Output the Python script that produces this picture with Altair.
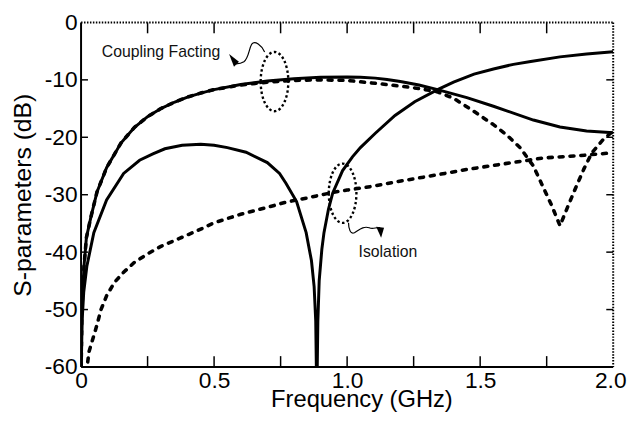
import altair as alt
import pandas as pd

W, H = 539, 349
FONT = "Liberation Sans"

# Coupling (solid)
cs_x = [0.0, 0.003, 0.011, 0.02, 0.037, 0.06, 0.096, 0.15, 0.2, 0.25, 0.3, 0.35, 0.4, 0.45, 0.5,
        0.6, 0.7, 0.8, 0.9, 1.0, 1.05, 1.106, 1.15, 1.2, 1.27, 1.34, 1.45, 1.55, 1.7, 1.8, 1.9, 2.0]
cs_y = [-62, -50, -42.5, -37.5, -33.9, -29.5, -25.3, -21.0, -18.3, -16.4, -15.0, -13.9, -13.0, -12.3, -11.7,
        -10.8, -10.2, -9.8, -9.55, -9.5, -9.55, -9.7, -9.95, -10.3, -10.9, -11.7, -13.1, -14.6, -17.0, -18.2,
        -18.9, -19.2]

# Coupling (dashed)
cd_x = [0.0, 0.003, 0.011, 0.02, 0.037, 0.06, 0.096, 0.15, 0.2, 0.25, 0.3, 0.35, 0.4, 0.45, 0.5,
        0.6, 0.7, 0.8, 0.9, 1.0, 1.106, 1.2, 1.27, 1.34, 1.4, 1.477, 1.55, 1.6, 1.65, 1.7, 1.737, 1.77,
        1.80, 1.83, 1.86, 1.89, 1.92, 1.96, 2.0]
cd_y = [-62, -50, -42.5, -37.5, -33.9, -29.5, -25.3, -21.0, -18.3, -16.4, -15.0, -13.9, -13.0, -12.3, -11.7,
        -10.9, -10.4, -10.1, -10.0, -10.1, -10.6, -11.1, -11.5, -12.1, -13.2, -15.5, -17.8, -19.6, -21.8,
        -25.0, -28.7, -32.0, -35.4, -32.0, -28.7, -25.5, -22.7, -20.5, -18.9]

# Solid curve with deep null
ls_x = [0.0, 0.004, 0.01, 0.022, 0.048, 0.096, 0.16, 0.22, 0.27, 0.315, 0.38, 0.45, 0.5, 0.55, 0.62,
        0.7, 0.746, 0.77, 0.81, 0.846, 0.866, 0.876, 0.882, 0.886, 0.89, 0.895, 0.905, 0.913, 0.93,
        0.946, 0.983, 1.02, 1.05, 1.106, 1.18, 1.254, 1.34, 1.4, 1.477, 1.55, 1.625, 1.69, 1.8, 1.9, 2.0]
ls_y = [-62, -52, -47, -42.4, -36.6, -30.9, -26.3, -24.0, -22.9, -22.0, -21.4, -21.2, -21.4, -21.8, -22.6,
        -24.4, -26.3, -28.0, -31.2, -36.6, -41.5, -46, -52, -66, -52, -45, -39.5, -36.6, -32.5,
        -29.7, -25.8, -23.4, -21.8, -19.3, -16.2, -13.8, -11.7, -10.4, -9.0, -8.1, -7.3, -6.8, -6.0, -5.5, -5.1]

# Isolation (dashed)
iso_x = [0.02, 0.03, 0.045, 0.059, 0.075, 0.096, 0.125, 0.16, 0.2, 0.25, 0.3, 0.37, 0.44, 0.5, 0.6,
         0.7, 0.77, 0.846, 0.946, 1.0, 1.1, 1.18, 1.33, 1.45, 1.55, 1.65, 1.737, 1.87, 2.0]
iso_y = [-61, -57.3, -55, -52.8, -50, -47.6, -45.3, -43.5, -41.8, -40.3, -39.0, -37.6, -36.2, -34.9, -33.4,
         -32.2, -31.3, -30.6, -29.6, -29.2, -28.5, -27.8, -26.6, -25.6, -24.9, -24.2, -23.6, -23.2, -22.7]

x_ticks = [0.25, 0.5, 0.75, 1.0, 1.25, 1.5, 1.75]
y_ticks = [-50, -40, -30, -20, -10]
x_labels = [0, 0.5, 1.0, 1.5, 2.0]
y_labels = [0, -10, -20, -30, -40, -50, -60]

notes = pd.DataFrame({"x": [0.078, 1.043], "y": [-6.0, -40.9],
                      "t": ["Coupling Facting", "Isolation"]})
ellipses = pd.DataFrame({"x": [0.727, 0.983], "y": [-10.3, -29.74], "k": ["c", "i"]})

xscale = alt.Scale(domain=[0, 2], nice=False, zero=False)
yscale = alt.Scale(domain=[-60, 0], nice=False, zero=False)

X = alt.X("x:Q", scale=xscale, axis=alt.Axis(
    values=x_labels, labelExpr="datum.value == 0 ? '0' : format(datum.value, '.1f')",
    ticks=False, domain=False, grid=False, labelFont=FONT, labelFontSize=23, labelColor="black",
    labelPadding=3, labelFlush=False, labelOverlap=False,
    labelAlign=alt.condition("datum.value == 2", alt.value("right"), alt.value("center")),
    labelOffset=alt.condition("datum.value == 2", alt.value(13), alt.value(0)),
    title="Frequency (GHz)", titleFont=FONT, titleFontSize=24, titleFontWeight="normal",
    titleColor="black", titleX=284, titleY=40, titleBaseline="alphabetic"))
Y = alt.Y("y:Q", scale=yscale, axis=alt.Axis(
    values=y_labels, labelExpr="'' + datum.value",
    ticks=False, domain=False, grid=False, labelFont=FONT, labelFontSize=23, labelColor="black",
    labelPadding=4, labelFlush=False, labelOverlap=False,
    title="S-parameters (dB)", titleFont=FONT, titleFontSize=25, titleFontWeight="normal",
    titleColor="black", titleX=-59, titleY=174.5, titleAngle=270, titleBaseline="middle",
    titleAlign="center"))


def df(xs, ys):
    return pd.DataFrame({"x": xs, "y": ys})


solid_c = alt.Chart(df(cs_x, cs_y)).mark_line(color="black", strokeWidth=3, clip=True).encode(x=X, y=Y)
dash_c = alt.Chart(df(cd_x, cd_y)).mark_line(color="black", strokeWidth=3.6, strokeDash=[4, 7],
                                             strokeCap="round", clip=True).encode(x=X, y=Y)
solid_l = alt.Chart(df(ls_x, ls_y)).mark_line(color="black", strokeWidth=3, clip=True).encode(x=X, y=Y)
dash_i = alt.Chart(df(iso_x, iso_y)).mark_line(color="black", strokeWidth=3.6, strokeDash=[4, 7],
                                               strokeCap="round", clip=True).encode(x=X, y=Y)

# frame
frame_b = alt.Chart(df([0], [0])).mark_rule(color="black", strokeWidth=2).encode(
    x=alt.value(0), x2=alt.value(W), y=alt.value(H))
frame_l = alt.Chart(df([0], [0])).mark_rule(color="black", strokeWidth=2).encode(
    x=alt.value(0), y=alt.value(0), y2=alt.value(H))
frame_t = alt.Chart(df([0], [0])).mark_rule(color="black", strokeWidth=2, strokeDash=[1.5, 1.5]).encode(
    x=alt.value(0), x2=alt.value(W), y=alt.value(0))
frame_r = alt.Chart(df([0], [0])).mark_rule(color="black", strokeWidth=2, strokeDash=[1.5, 1.5]).encode(
    x=alt.value(W), y=alt.value(0), y2=alt.value(H))

xt = pd.DataFrame({"x": x_ticks})
yt = pd.DataFrame({"y": y_ticks})
tick_b = alt.Chart(xt).mark_rule(color="black", strokeWidth=1.5).encode(
    x=X, y=alt.value(H), y2=alt.value(H - 11))
tick_t = alt.Chart(xt).mark_rule(color="black", strokeWidth=1.5).encode(
    x=X, y=alt.value(0), y2=alt.value(11))
tick_l = alt.Chart(yt).mark_rule(color="black", strokeWidth=1.5).encode(
    y=Y, x=alt.value(0), x2=alt.value(7))
tick_r = alt.Chart(yt).mark_rule(color="black", strokeWidth=1.5).encode(
    y=Y, x=alt.value(W), x2=alt.value(W - 7))

texts = alt.Chart(notes).mark_text(font=FONT, fontSize=16, align="left", baseline="alphabetic",
                                   color="#111").encode(x=X, y=Y, text="t:N")

ell_path = "M -14 0 A 14 30 0 1 0 14 0 A 14 30 0 1 0 -14 0 Z"
ell = alt.Chart(ellipses).mark_point(shape=ell_path, size=4, filled=False, color="black",
                                     strokeWidth=2.4, strokeDash=[2.5, 2.5], opacity=1).encode(x=X, y=Y)

sq1 = alt.Chart(ellipses.iloc[[0]]).mark_point(
    shape="M -10 -30 C -13 -37 -20 -42 -23 -38 C -26 -33 -26 -24 -31 -20 C -34 -18 -36 -18 -39 -18",
    size=4, filled=False, color="black", strokeWidth=1.2, opacity=1).encode(x=X, y=Y)
ah1 = alt.Chart(ellipses.iloc[[0]]).mark_point(
    shape="M -46 -28 L -36 -20 L -41 -15 Z", size=4, filled=True, color="black", opacity=1).encode(x=X, y=Y)
sq2 = alt.Chart(ellipses.iloc[[1]]).mark_point(
    shape="M 6 30 C 6 36 8 42 12 40 C 17 37 21 33 27 35 C 31 37 34 34 38 35",
    size=4, filled=False, color="black", strokeWidth=1.2, opacity=1).encode(x=X, y=Y)
ah2 = alt.Chart(ellipses.iloc[[1]]).mark_point(
    shape="M 34 34 L 42 35 L 39 45 Z", size=4, filled=True, color="black", opacity=1).encode(x=X, y=Y)

chart = alt.layer(
    solid_c, dash_c, solid_l, dash_i,
    frame_b, frame_l, frame_t, frame_r, tick_b, tick_t, tick_l, tick_r,
    texts, ell, sq1, ah1, sq2, ah2
).properties(
    width=W, height=H,
    autosize=alt.AutoSizeParams(type="none"),
    padding={"left": 74, "top": 12, "right": 15, "bottom": 45},
    background="white",
).configure_view(stroke=None)

chart.save("out.html", embed_options={"renderer": "svg", "actions": False})
